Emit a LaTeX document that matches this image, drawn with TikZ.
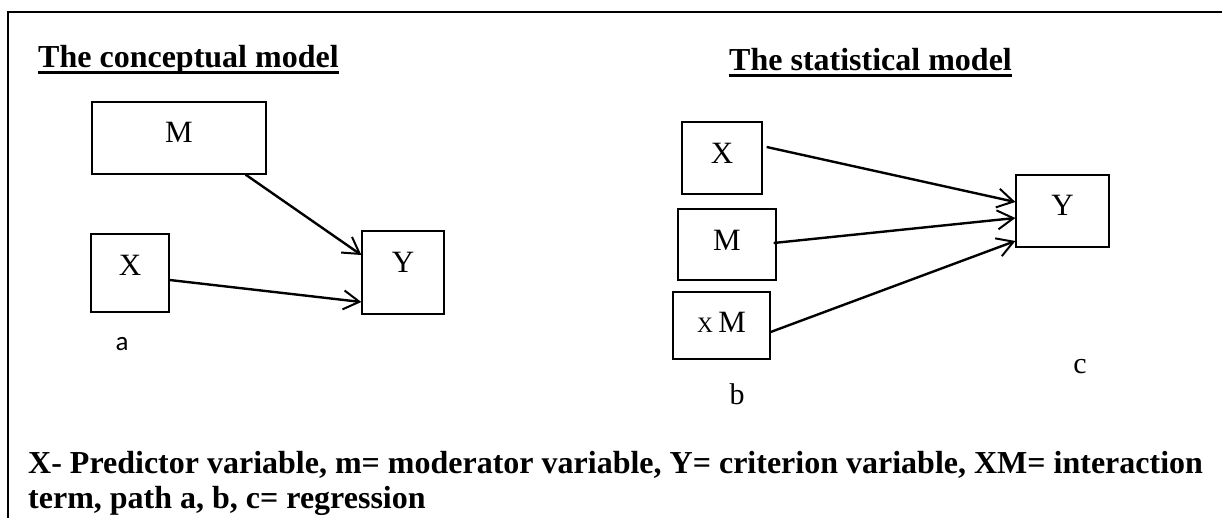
\documentclass[tikz,border=0pt]{standalone}
\usepackage{fontspec}
\setmainfont{Liberation Serif}
\newfontfamily\sansf{Carlito}
\usetikzlibrary{arrows.meta,calc}
\begin{document}
\begin{tikzpicture}[x=1pt,y=-1pt,
  box/.style={draw, line width=1.3pt, rectangle, inner sep=0pt,
    font=\fontsize{31}{36}\selectfont},
  conn/.style={line width=2.4pt, -{Straight Barb[length=16pt,width=19pt,line width=2pt]}},
  title/.style={font=\bfseries\fontsize{32}{36}\selectfont, inner sep=0pt, anchor=base west},
  lbl/.style={font=\fontsize{30}{34}\selectfont, inner sep=0pt, anchor=base},
  legend/.style={font=\bfseries\fontsize{32}{35}\selectfont, inner sep=0pt, anchor=base west},
  frame/.style={line width=1.5pt}
]
\useasboundingbox (0,0) rectangle (1222,518);
% frame
\coordinate (fTL) at (8,12);
\coordinate (fTR) at (1222,12);
\coordinate (fBL) at (8,518);
\draw[frame] (fTR) -- (fTL) -- (fBL);

% titles
\node[title] (t1) at (38,68) {The conceptual model};
\draw[line width=3pt] ([yshift=-5pt]t1.base west) -- ([yshift=-5pt]t1.base east);
\node[title] (t2) at (729,71) {The statistical model};
\draw[line width=3pt] ([yshift=-5pt]t2.base west) -- ([yshift=-5pt]t2.base east);

% conceptual model
\node[box, minimum width=174pt, minimum height=72pt, text depth=12pt] (cM) at (179,138) {M};
\node[box, minimum width=78pt, minimum height=78pt, text depth=16pt] (cX) at (130,273) {X};
\node[box, minimum width=82pt, minimum height=83pt, text depth=20pt] (cY) at (403,272.5) {Y};
\draw[conn] ([xshift=-21pt]cM.south east) -- ([yshift=17.5pt]cY.west);
\draw[conn] ([yshift=-7pt]cX.east) -- ([yshift=-29.5pt]cY.west);
\node[font=\sansf\fontsize{27}{30}\selectfont, inner sep=0pt, anchor=base] (la) at (122,350) {a};

% statistical model
\node[box, minimum width=80pt, minimum height=72pt, text depth=10pt] (sX) at (722,158) {X};
\node[box, minimum width=98pt, minimum height=71pt, text depth=9pt] (sM) at (727,244.5) {M};
\node[box, minimum width=97pt, minimum height=67pt, text depth=6pt] (sXM) at (721.5,325.5) {{\fontsize{22}{24}\selectfont X}\,M};
\node[box, minimum width=93pt, minimum height=72pt, text depth=12pt] (sY) at (1062.5,211) {Y};
\draw[conn] ([xshift=4pt,yshift=11pt]sX.east) -- ([yshift=9pt]sY.west);
\draw[conn] ([xshift=-3pt,yshift=1.5pt]sM.east) -- ([yshift=-7pt]sY.west);
\draw[conn] ([yshift=-6.5pt]sXM.east) -- ([yshift=-30pt]sY.west);
\node[lbl] (lb) at (737,404) {b};
\node[lbl] (lc) at (1080,373) {c};

% legend
\node[legend] (leg1) at (28,473) {X- Predictor variable, m= moderator variable, Y= criterion variable, XM= interaction};
\node[legend] (leg2) at (28,508) {term, path a, b, c= regression};
\end{tikzpicture}
\end{document}
